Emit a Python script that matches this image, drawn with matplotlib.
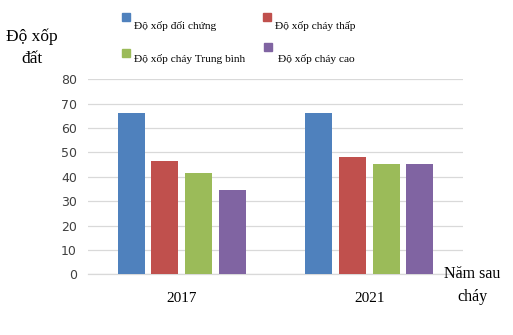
import matplotlib
matplotlib.use("Agg")
import matplotlib.pyplot as plt
from matplotlib.patches import Rectangle
import numpy as np

# data
years = ["2017", "2021"]
series = ["Độ xốp đối chứng", "Độ xốp cháy thấp",
          "Độ xốp cháy Trung bình", "Độ xốp cháy cao"]
doi_chung = [66.3, 66.3]
chay_thap = [46.6, 48.0]
chay_tb = [41.4, 45.2]
chay_cao = [34.6, 45.2]
values = [doi_chung, chay_thap, chay_tb, chay_cao]
colors = ["#4F81BD", "#C0504D", "#9BBB59", "#8064A2"]
yticks = [0, 10, 20, 30, 40, 50, 60, 70, 80]

W, H = 513, 335
fig = plt.figure(figsize=(W / 100, H / 100), dpi=100)
ax = fig.add_axes([88 / W, 1 - 274.3 / H, 375 / W, 195 / H])

serif = ["Liberation Serif", "DejaVu Serif"]
narrow = ["Liberation Sans Narrow", "DejaVu Sans"]

x = np.arange(len(years))
step = 0.18
width = 0.144
for i, (vals, c) in enumerate(zip(values, colors)):
    ax.bar(x + (i - 1.5) * step, vals, width, color=c, zorder=3)

ax.set_xlim(-0.5, 1.5)
ax.set_ylim(0, 80)
ax.set_yticks(yticks)
ax.set_yticklabels([str(v) for v in yticks], family=narrow, fontsize=9,
                   color="#404040")
ax.set_xticks(x)
ax.set_xticklabels(years, family=serif, fontsize=11)
ax.tick_params(axis="both", length=0)
ax.tick_params(axis="y", pad=8)
ax.tick_params(axis="x", pad=13)
ax.yaxis.grid(True, color="#D9D9D9", linewidth=0.9, zorder=0)
for s in ["top", "right", "left"]:
    ax.spines[s].set_visible(False)
ax.spines["bottom"].set_color("#D9D9D9")
ax.spines["bottom"].set_linewidth(0.9)

# axis titles
fig.text(32 / W, 1 - 37 / H, "Độ xốp", family=serif, fontsize=12.5,
         ha="center", va="center")
fig.text(32 / W, 1 - 59 / H, "đất", family=serif, fontsize=12.5,
         ha="center", va="center")
fig.text(472 / W, 1 - 274 / H, "Năm sau", family=serif, fontsize=11.5,
         ha="center", va="center")
fig.text(472 / W, 1 - 297 / H, "cháy", family=serif, fontsize=11.5,
         ha="center", va="center")

# legend drawn by hand, two columns
spots = [(122, 13, 134, 26), (263, 13, 275, 26),
         (122, 49, 134, 59), (264, 43, 278, 59)]
for k, (mx, my, tx, ty) in enumerate(spots):
    fig.patches.append(Rectangle((mx / W, 1 - (my + 8) / H), 8 / W, 8 / H,
                                 transform=fig.transFigure,
                                 color=colors[k]))
    fig.text(tx / W, 1 - ty / H, series[k], family=serif, fontsize=8.2,
             ha="left", va="center")

fig.savefig("out.png", dpi=100)
